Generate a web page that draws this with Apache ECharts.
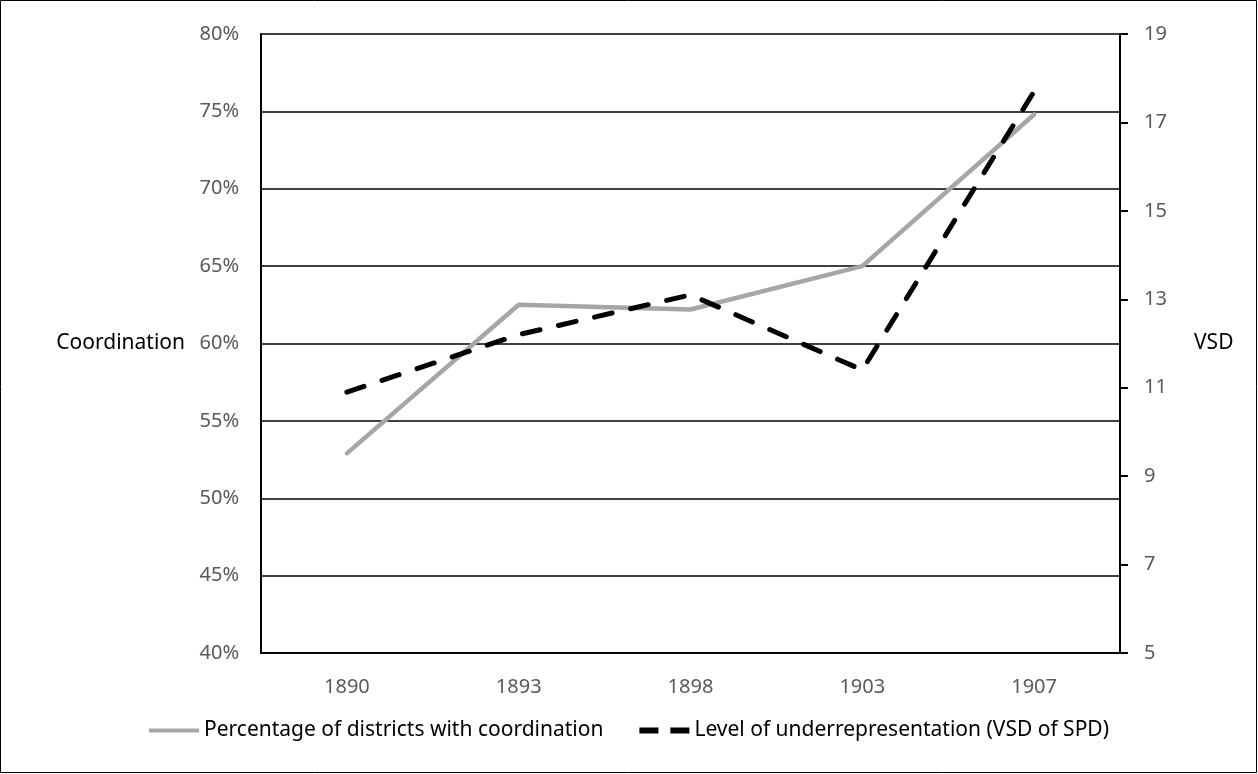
<!DOCTYPE html>
<html><head><meta charset="utf-8">
<script src="https://cdn.jsdelivr.net/npm/echarts@6/dist/echarts.min.js"></script>
<style>html,body{margin:0;padding:0;background:#fff}#c{width:1258px;height:774px}</style>
</head><body><div id="c"></div>
<script>
const categories = ['1890', '1893', '1898', '1903', '1907'];
const coordination = [52.9, 62.5, 62.2, 65.0, 74.8];
const vsd = [10.9, 12.2, 13.1, 11.4, 17.7];
const seriesNames = ['Percentage of districts with coordination', 'Level of underrepresentation (VSD of SPD)'];

const chart = echarts.init(document.getElementById('c'), null, {renderer: 'canvas'});
const font = 'Noto Sans';
chart.setOption({
  animation: false,
  backgroundColor: '#fff',
  graphic: [{type: 'rect', shape: {x: 0.5, y: 0.5, width: 1256, height: 772}, style: {fill: 'none', stroke: '#000', lineWidth: 1}, silent: true}],
  grid: {left: 261, right: 138, top: 34, bottom: 121, containLabel: false},
  legend: {
    bottom: 28, left: 'center', itemWidth: 50, itemHeight: 14, itemGap: 36,
    textStyle: {color: '#000', fontFamily: font, fontSize: 21},
    data: [
      {name: seriesNames[0], icon: 'path://M0,0H50V4H0Z', itemStyle: {color: '#a6a6a6'}},
      {name: seriesNames[1], icon: 'path://M0,0H19V6H0Z M31,0H50V6H31Z', itemStyle: {color: '#000'}}
    ]
  },
  xAxis: {
    type: 'category', data: categories, boundaryGap: true,
    axisLine: {lineStyle: {color: '#000', width: 2}},
    axisTick: {show: false},
    axisLabel: {color: '#595959', fontFamily: font, fontSize: 20, margin: 24}
  },
  yAxis: [{
    type: 'value', min: 40, max: 80, interval: 5,
    name: 'Coordination', nameLocation: 'middle', nameRotate: 0, nameGap: 76,
    nameTextStyle: {color: '#000', fontFamily: font, fontSize: 21, align: 'right'},
    axisLine: {show: true, lineStyle: {color: '#000', width: 2}},
    axisTick: {show: false},
    splitLine: {show: true, lineStyle: {color: '#000', width: 1.5}},
    axisLabel: {color: '#595959', fontFamily: font, fontSize: 20, margin: 22, formatter: v => v + '%'}
  }, {
    type: 'value', min: 5, max: 19, interval: 2, position: 'right',
    name: 'VSD', nameLocation: 'middle', nameRotate: 0, nameGap: 74,
    nameTextStyle: {color: '#000', fontFamily: font, fontSize: 21, align: 'left'},
    axisLine: {show: true, lineStyle: {color: '#000', width: 2}},
    axisTick: {show: true, inside: false, length: 8, lineStyle: {color: '#000', width: 2}},
    splitLine: {show: false},
    axisLabel: {color: '#595959', fontFamily: font, fontSize: 20, margin: 24}
  }],
  series: [{
    name: seriesNames[0], type: 'line', yAxisIndex: 0, data: coordination,
    symbol: 'none', lineStyle: {color: '#a6a6a6', width: 4.5, cap: 'round', join: 'round'},
    itemStyle: {color: '#a6a6a6'}
  }, {
    name: seriesNames[1], type: 'line', yAxisIndex: 1, data: vsd,
    symbol: 'none', lineStyle: {color: '#000', width: 5, type: [18, 19], cap: 'round'},
    itemStyle: {color: '#000'}
  }]
});
</script></body></html>
